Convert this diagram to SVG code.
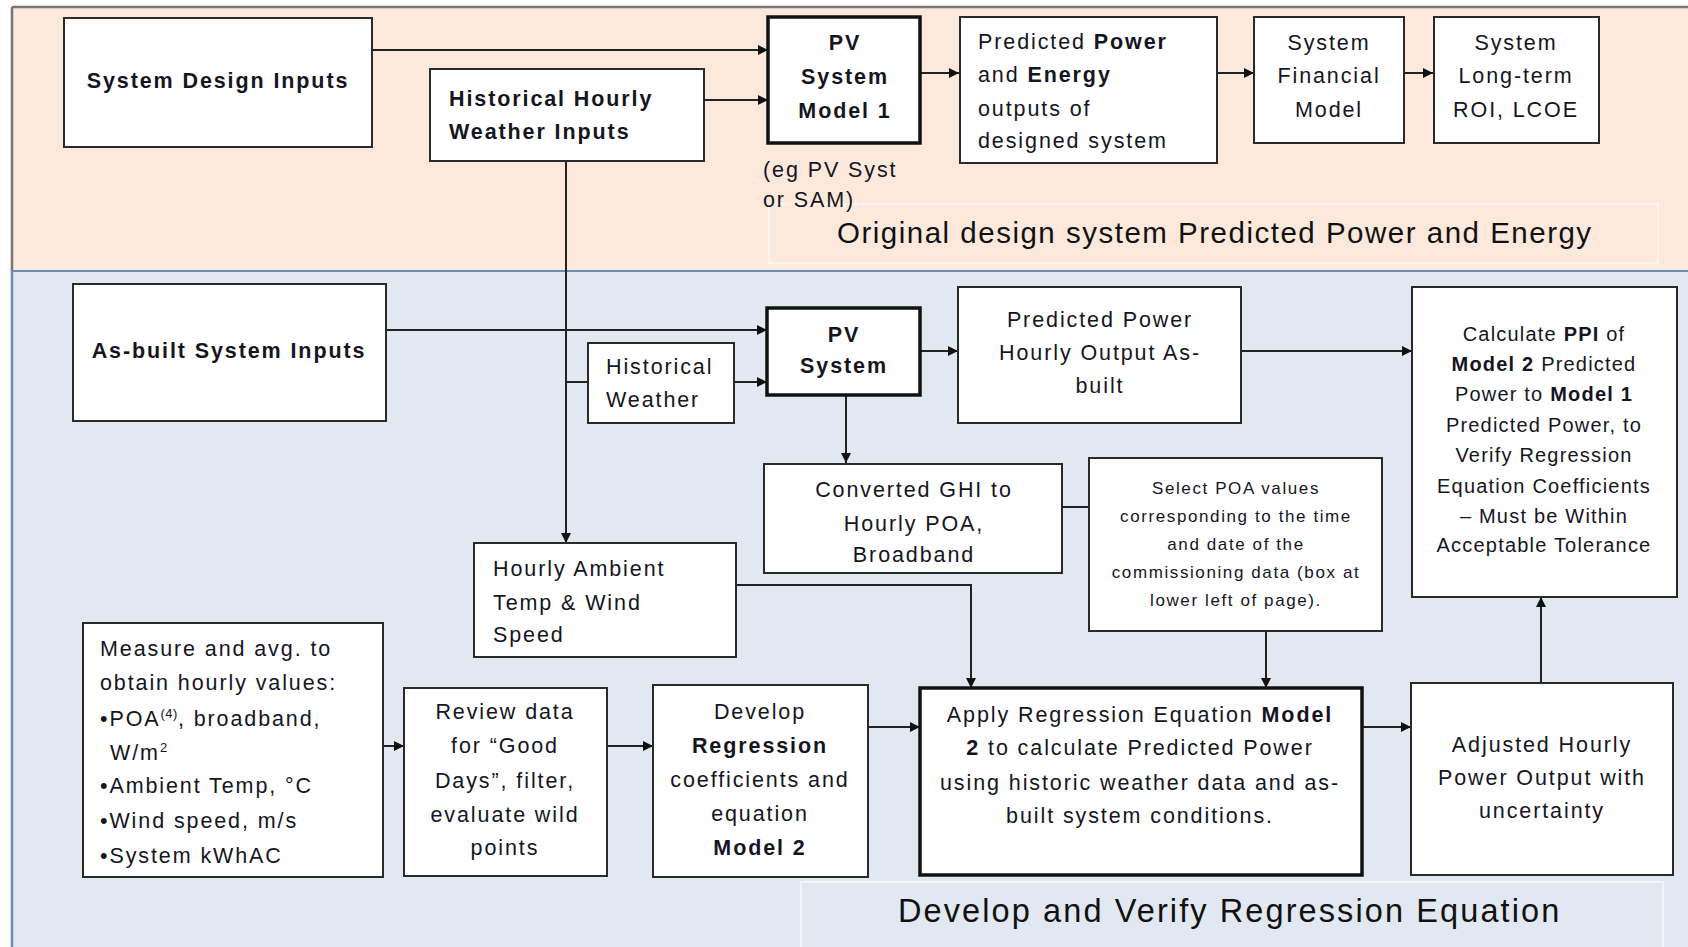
<svg xmlns="http://www.w3.org/2000/svg" width="1688" height="947" viewBox="0 0 1688 947">
  <defs>
    <style>
      .box { fill: #ffffff; stroke: #2a2a2a; stroke-width: 2; }
      .thick { stroke: #111111; stroke-width: 3.5; }
      .t { font-family: "Liberation Sans", Arial, sans-serif; font-size: 21.5px; letter-spacing: 1.9px; fill: #15151f; }
      .c { text-anchor: middle; }
      .b { font-weight: bold; }
      .sm { font-size: 20px; letter-spacing: 1.2px; }
      .xs { font-size: 17px; letter-spacing: 1.6px; }
      .sup { font-size: 13px; letter-spacing: 0.5px; }
      .lab1 { font-family: "Liberation Sans", Arial, sans-serif; font-size: 29.5px; letter-spacing: 1.5px; fill: #111111; }
      .lab2 { font-family: "Liberation Sans", Arial, sans-serif; font-size: 32.5px; letter-spacing: 2.1px; fill: #111111; }
      .conn path { fill: none; stroke: #222222; stroke-width: 2; }
      .arr { marker-end: url(#head); }
      .labbox { fill: none; stroke: #ffffff; stroke-opacity: 0.75; stroke-width: 1.5; }
    </style>
    <marker id="head" viewBox="0 0 10 10" refX="10" refY="5" markerWidth="11" markerHeight="10" markerUnits="userSpaceOnUse" orient="auto">
      <path d="M0,0 L10,5 L0,10 z" fill="#111111"/>
    </marker>
  </defs>

  <!-- page background -->
  <rect x="0" y="0" width="1688" height="947" fill="#ffffff"/>

  <!-- upper band: original design -->
  <rect x="12" y="7" width="1676" height="264" fill="#fde9dc"/>
  <!-- lower band: regression -->
  <rect x="12" y="271" width="1676" height="676" fill="#e1e8f1"/>
  <path d="M12,7 H1688 M12,7 V271" fill="none" stroke="#767676" stroke-width="2.5"/>
  <path d="M12,271 V947" fill="none" stroke="#6f8db3" stroke-width="2.5"/>
  <path d="M12,271 H1688" fill="none" stroke="#6f8db3" stroke-width="2"/>

  <!-- band captions -->
  <g id="caption-original">
    <rect class="labbox" x="769" y="204" width="889" height="59"/>
    <text class="lab1" x="837" y="243">Original design system Predicted Power and Energy</text>
  </g>
  <g id="caption-regression">
    <rect class="labbox" x="801" y="882" width="862" height="70"/>
    <text class="lab2" x="898" y="922">Develop and Verify Regression Equation</text>
  </g>

  <!-- connectors -->
  <g id="connectors" class="conn">
    <path class="arr" d="M372,50 H768"/>
    <path class="arr" d="M704,100 H768"/>
    <path class="arr" d="M920,73 H959"/>
    <path class="arr" d="M1217,73 H1254"/>
    <path class="arr" d="M1383,73 H1433"/>
    <path class="arr" d="M566,161 V543"/>
    <path d="M566,382 H588"/>
    <path class="arr" d="M386,330 H767"/>
    <path class="arr" d="M734,382 H767"/>
    <path class="arr" d="M920,351 H958"/>
    <path class="arr" d="M846,395 V463"/>
    <path class="arr" d="M1241,351 H1412"/>
    <path d="M1062,507 H1089"/>
    <path class="arr" d="M736,585 H971 V688"/>
    <path class="arr" d="M1266,631 V688"/>
    <path class="arr" d="M383,746 H404"/>
    <path class="arr" d="M607,746 H653"/>
    <path class="arr" d="M868,727 H920"/>
    <path class="arr" d="M1362,727 H1411"/>
    <path class="arr" d="M1541,683 V597"/>
  </g>

  <!-- upper band nodes -->
  <g id="system-design-inputs">
    <rect class="box" x="64" y="18" width="308" height="129"/>
    <text class="t b c" x="218" y="88">System Design Inputs</text>
  </g>

  <g id="historical-hourly-weather">
    <rect class="box" x="430" y="69" width="274" height="92"/>
    <text class="t b" x="449" y="106">Historical Hourly</text>
    <text class="t b" x="449" y="139">Weather Inputs</text>
  </g>

  <g id="pv-model-1">
    <rect class="box thick" x="768" y="17" width="152" height="126"/>
    <text class="t b c" x="845" y="50">PV</text>
    <text class="t b c" x="845" y="84">System</text>
    <text class="t b c" x="845" y="118">Model 1</text>
    <text class="t" x="763" y="177">(eg PV Syst</text>
    <text class="t" x="763" y="207">or SAM)</text>
  </g>

  <g id="predicted-power-energy">
    <rect class="box" x="960" y="17" width="257" height="146"/>
    <text class="t" x="978" y="49">Predicted <tspan class="b">Power</tspan></text>
    <text class="t" x="978" y="82">and <tspan class="b">Energy</tspan></text>
    <text class="t" x="978" y="116">outputs of</text>
    <text class="t" x="978" y="148">designed system</text>
  </g>

  <g id="financial-model">
    <rect class="box" x="1254" y="17" width="150" height="126"/>
    <text class="t c" x="1329" y="50">System</text>
    <text class="t c" x="1329" y="83">Financial</text>
    <text class="t c" x="1329" y="117">Model</text>
  </g>

  <g id="long-term-roi">
    <rect class="box" x="1434" y="17" width="165" height="126"/>
    <text class="t c" x="1516" y="50">System</text>
    <text class="t c" x="1516" y="83">Long-term</text>
    <text class="t c" x="1516" y="117">ROI, LCOE</text>
  </g>

  <!-- lower band nodes -->
  <g id="as-built-inputs">
    <rect class="box" x="73" y="284" width="313" height="137"/>
    <text class="t b c" x="229" y="358">As-built System Inputs</text>
  </g>

  <g id="historical-weather">
    <rect class="box" x="588" y="343" width="146" height="80"/>
    <text class="t" x="606" y="374">Historical</text>
    <text class="t" x="606" y="407">Weather</text>
  </g>

  <g id="pv-system">
    <rect class="box thick" x="767" y="308" width="153" height="87"/>
    <text class="t b c" x="844" y="342">PV</text>
    <text class="t b c" x="844" y="373">System</text>
  </g>

  <g id="predicted-hourly-as-built">
    <rect class="box" x="958" y="287" width="283" height="136"/>
    <text class="t c" x="1100" y="327">Predicted Power</text>
    <text class="t c" x="1100" y="360">Hourly Output As-</text>
    <text class="t c" x="1100" y="393">built</text>
  </g>

  <g id="calculate-ppi">
    <rect class="box" x="1412" y="287" width="265" height="310"/>
    <text class="t sm c" x="1544" y="341">Calculate <tspan class="b">PPI</tspan> of</text>
    <text class="t sm c" x="1544" y="371"><tspan class="b">Model 2</tspan> Predicted</text>
    <text class="t sm c" x="1544" y="401">Power to <tspan class="b">Model 1</tspan></text>
    <text class="t sm c" x="1544" y="432">Predicted Power, to</text>
    <text class="t sm c" x="1544" y="462">Verify Regression</text>
    <text class="t sm c" x="1544" y="493">Equation Coefficients</text>
    <text class="t sm c" x="1544" y="523">– Must be Within</text>
    <text class="t sm c" x="1544" y="552">Acceptable Tolerance</text>
  </g>

  <g id="converted-ghi">
    <rect class="box" x="764" y="464" width="298" height="109"/>
    <text class="t c" x="914" y="497">Converted GHI to</text>
    <text class="t c" x="914" y="531">Hourly POA,</text>
    <text class="t c" x="914" y="562">Broadband</text>
  </g>

  <g id="select-poa">
    <rect class="box" x="1089" y="458" width="293" height="173"/>
    <text class="t xs c" x="1236" y="494">Select POA values</text>
    <text class="t xs c" x="1236" y="522">corresponding to the time</text>
    <text class="t xs c" x="1236" y="550">and date of the</text>
    <text class="t xs c" x="1236" y="578">commissioning data (box at</text>
    <text class="t xs c" x="1236" y="606">lower left of page).</text>
  </g>

  <g id="hourly-ambient">
    <rect class="box" x="474" y="543" width="262" height="114"/>
    <text class="t" x="493" y="576">Hourly Ambient</text>
    <text class="t" x="493" y="610">Temp &amp; Wind</text>
    <text class="t" x="493" y="642">Speed</text>
  </g>

  <g id="measure-average">
    <rect class="box" x="83" y="623" width="300" height="254"/>
    <text class="t" x="100" y="656">Measure and avg. to</text>
    <text class="t" x="100" y="690">obtain hourly values:</text>
    <text class="t" x="100" y="726">•POA<tspan class="sup" dy="-8">(4)</tspan><tspan dy="8">, broadband,</tspan></text>
    <text class="t" x="110" y="760">W/m<tspan class="sup" dy="-8">2</tspan></text>
    <text class="t" x="100" y="793">•Ambient Temp, °C</text>
    <text class="t" x="100" y="828">•Wind speed, m/s</text>
    <text class="t" x="100" y="863">•System kWhAC</text>
  </g>

  <g id="review-data">
    <rect class="box" x="404" y="688" width="203" height="188"/>
    <text class="t c" x="505" y="719">Review data</text>
    <text class="t c" x="505" y="753">for “Good</text>
    <text class="t c" x="505" y="788">Days”, filter,</text>
    <text class="t c" x="505" y="822">evaluate wild</text>
    <text class="t c" x="505" y="855">points</text>
  </g>

  <g id="develop-regression">
    <rect class="box" x="653" y="685" width="215" height="192"/>
    <text class="t c" x="760" y="719">Develop</text>
    <text class="t b c" x="760" y="753">Regression</text>
    <text class="t c" x="760" y="787">coefficients and</text>
    <text class="t c" x="760" y="821">equation</text>
    <text class="t b c" x="760" y="855">Model 2</text>
  </g>

  <g id="apply-regression">
    <rect class="box thick" x="920" y="688" width="442" height="187"/>
    <text class="t c" x="1140" y="722">Apply Regression Equation <tspan class="b">Model</tspan></text>
    <text class="t c" x="1140" y="755"><tspan class="b">2</tspan> to calculate Predicted Power</text>
    <text class="t c" x="1140" y="790">using historic weather data and as-</text>
    <text class="t c" x="1140" y="823">built system conditions.</text>
  </g>

  <g id="adjusted-output">
    <rect class="box" x="1411" y="683" width="262" height="192"/>
    <text class="t c" x="1542" y="752">Adjusted Hourly</text>
    <text class="t c" x="1542" y="785">Power Output with</text>
    <text class="t c" x="1542" y="818">uncertainty</text>
  </g>
</svg>
